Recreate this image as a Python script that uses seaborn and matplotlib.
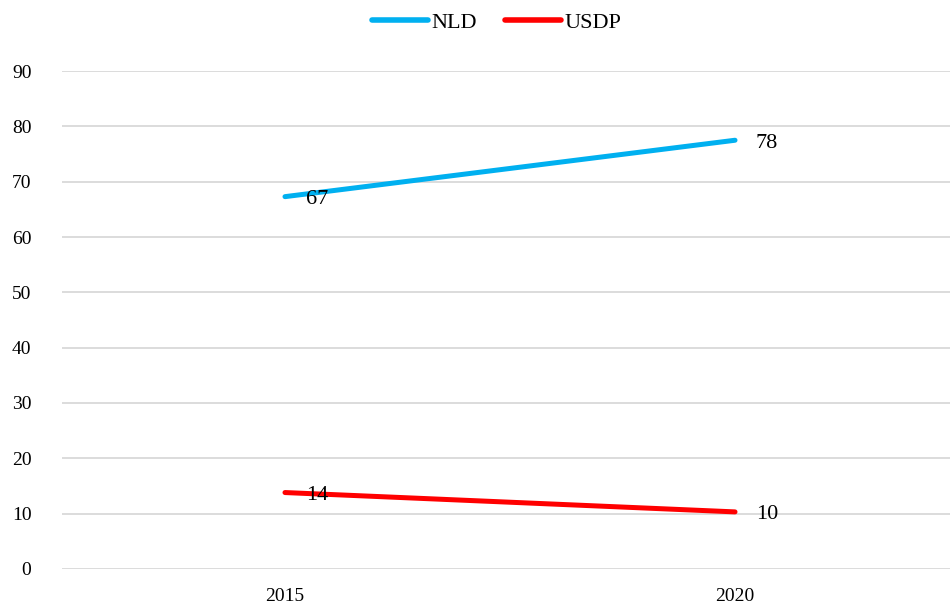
import numpy as np
import pandas as pd
import seaborn as sns
import matplotlib.pyplot as plt

years = ["2015", "2020"]
nld = [67.3, 77.5]
usdp = [13.8, 10.3]
nld_labels = ["67", "78"]
usdp_labels = ["14", "10"]
y_ticks = [0, 10, 20, 30, 40, 50, 60, 70, 80, 90]

df = pd.DataFrame({
    "year": years * 2,
    "share": nld + usdp,
    "party": ["NLD"] * len(years) + ["USDP"] * len(years),
})

sns.set_style("white")
plt.rcParams["font.family"] = ["Liberation Serif", "DejaVu Serif"]
plt.rcParams["text.color"] = "#000000"

fig = plt.figure(figsize=(9.53, 6.13), dpi=100)
ax = fig.add_axes([0.065, 0.072, 0.932, 0.812])

palette = {"NLD": "#00B0F0", "USDP": "#FF0000"}
sns.lineplot(data=df, x="year", y="share", hue="party", palette=palette,
             linewidth=3.6, ax=ax, legend=False, solid_capstyle="round")

for labels, vals in [(nld_labels, nld), (usdp_labels, usdp)]:
    for i, (lab, v) in enumerate(zip(labels, vals)):
        ax.annotate(lab, (i, v), xytext=(15, -2), textcoords="offset points",
                    ha="left", va="center", fontsize=16, color="#000000")

ax.set_xlim(-0.4956, 1.478)
ax.set_ylim(0, 90)
ax.set_yticks(y_ticks)
ax.yaxis.grid(True, color="#d9d9d9", linewidth=1.3)
ax.set_axisbelow(True)
for s in ax.spines.values():
    s.set_visible(False)
ax.tick_params(axis="both", length=0, labelsize=14, colors="#000000")
ax.tick_params(axis="x", pad=14)
ax.tick_params(axis="y", pad=22)
ax.set_xlabel("")
ax.set_ylabel("")

handles = [plt.Line2D([], [], color=palette[p], linewidth=4, solid_capstyle="round")
           for p in ["NLD", "USDP"]]
fig.legend(handles, ["NLD", "USDP"], loc="upper center", bbox_to_anchor=(0.521, 1.012),
           ncol=2, frameon=False, fontsize=16, handlelength=2.5,
           handletextpad=0.15, columnspacing=1.3, labelcolor="#000000")

fig.savefig("out.png", dpi=100)
